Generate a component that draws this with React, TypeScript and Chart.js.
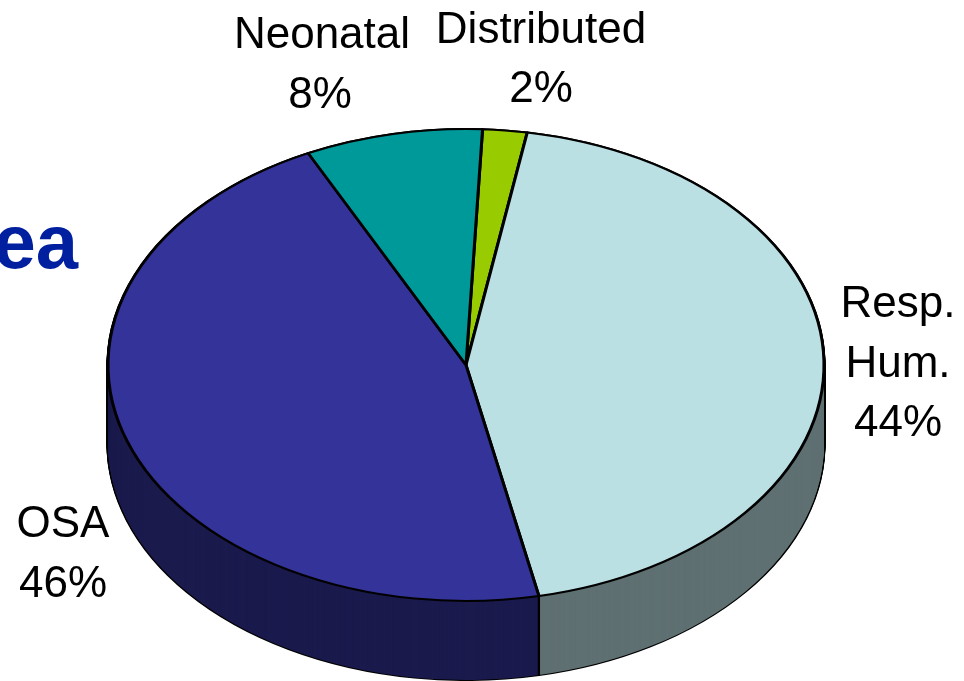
import React, { useEffect, useRef } from "react";
import { Chart, registerables } from "chart.js";

Chart.register(...registerables);

const categories = ["Distributed", "Resp. Hum.", "OSA", "Neonatal"];
const shareValues = [2, 44, 46, 8];
const topColors = ["#99CC00", "#BBE0E3", "#333399", "#009999"];
const wallColors = ["#4D6600", "#5F7072", "#1A1A4D", "#004D4D"];

const labelLines = [
  ["Distributed", "2%"],
  ["Resp.", "Hum.", "44%"],
  ["OSA", "46%"],
  ["Neonatal", "8%"],
];
const labelAnchors = [
  { xs: [541, 541], y: 43, step: 59 },
  { xs: [898, 898, 898], y: 317, step: 59.5 },
  { xs: [63, 63], y: 537, step: 60 },
  { xs: [322, 320], y: 48, step: 60 },
];

const squashX = 358 / 236;
const wallDepth = 79;
const FONT = '"Liberation Sans", Arial, sans-serif';

const pie3dPlugin = {
  id: "pie3d",
  beforeDatasetDraw(chart: any) {
    const ctx = chart.ctx;
    const arcs = chart.getDatasetMeta(0).data;
    const cx = arcs[0].x;
    ctx.save();
    ctx.translate(cx, 0);
    ctx.scale(squashX, 1);
    ctx.translate(-cx, 0);

    const drawAt = (arc: any, dy: number, over: any) => {
      const orig = arc.options;
      arc.options = { ...orig, ...over };
      ctx.save();
      ctx.translate(0, dy);
      arc.draw(ctx);
      ctx.restore();
      arc.options = orig;
    };

    for (let d = wallDepth; d >= 0; d--) {
      arcs.forEach((arc: any) => drawAt(arc, d, { backgroundColor: "#000000" }));
    }
    for (let d = wallDepth; d >= 1; d--) {
      arcs.forEach((arc: any, i: number) =>
        drawAt(arc, d, { backgroundColor: wallColors[i], borderWidth: 0 })
      );
    }

    const seam = arcs[categories.indexOf("OSA")];
    const sx = seam.x + seam.outerRadius * Math.cos(seam.startAngle);
    const sy = seam.y + seam.outerRadius * Math.sin(seam.startAngle);
    ctx.strokeStyle = "#000000";
    ctx.lineWidth = 1.5;
    ctx.beginPath();
    ctx.moveTo(sx, sy);
    ctx.lineTo(sx, sy + wallDepth);
    ctx.stroke();
  },
  afterDatasetDraw(chart: any) {
    chart.ctx.restore();
  },
  afterDraw(chart: any) {
    const ctx = chart.ctx;
    ctx.save();
    ctx.fillStyle = "#000000";
    ctx.textAlign = "center";
    ctx.textBaseline = "alphabetic";
    ctx.font = `44px ${FONT}`;
    labelLines.forEach((lines, i) => {
      const a = labelAnchors[i];
      lines.forEach((line, j) => ctx.fillText(line, a.xs[j], a.y + j * a.step));
    });
    ctx.fillStyle = "#0020A0";
    ctx.textAlign = "right";
    ctx.font = `bold 76px ${FONT}`;
    ctx.fillText("ea", 78, 268);
    ctx.restore();
  },
};

export default function App() {
  const ref = useRef<HTMLCanvasElement | null>(null);
  useEffect(() => {
    const chart = new Chart(ref.current as HTMLCanvasElement, {
      type: "pie",
      data: {
        labels: categories,
        datasets: [
          {
            data: shareValues,
            backgroundColor: topColors,
            borderColor: "#000000",
            borderWidth: 2,
            clip: false,
          } as any,
        ],
      },
      options: {
        responsive: false,
        animation: false,
        rotation: 2.65,
        devicePixelRatio: 1,
        layout: { padding: { left: 229, top: 128, right: 261, bottom: 79 } },
        plugins: { legend: { display: false }, tooltip: { enabled: false } },
      },
      plugins: [pie3dPlugin],
    } as any);
    return () => chart.destroy();
  }, []);
  return (
    <div style={{ position: "fixed", left: 0, top: 0, width: 964, height: 681, overflow: "hidden", background: "#fff" }}>
      <canvas ref={ref} width={964} height={681} style={{ display: "block" }} />
    </div>
  );
}
